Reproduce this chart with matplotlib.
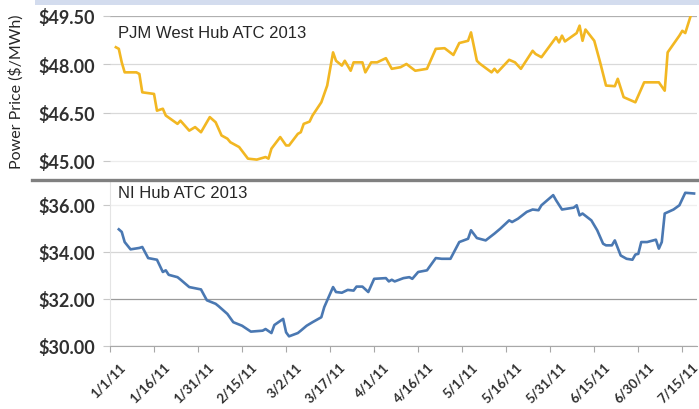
import datetime as dt
import matplotlib
matplotlib.use("Agg")
import matplotlib.pyplot as plt
import matplotlib.transforms as mtransforms
from matplotlib.lines import Line2D
from matplotlib.patches import Rectangle

# days after 1/1/11 and prices
pjm_days = [2, 3, 4, 5, 9, 10, 11, 15, 16, 18, 19, 23, 24, 27, 29, 31, 34, 36, 38, 40,
            41, 44, 47, 50, 53, 54, 55, 58, 60, 61, 64, 65, 66, 68, 69, 72, 74, 76, 77, 79,
            80, 82, 83, 86, 87, 89, 91, 94, 96, 99, 101, 104, 108, 111, 114, 117, 119, 122, 123, 125,
            126, 130, 131, 132, 136, 138, 140, 144, 145, 147, 152, 153, 154, 155, 159, 160, 161, 162, 165, 167,
            169, 172, 173, 175, 179, 182, 187, 189, 190, 194, 195, 196, 198, 200]
pjm_price = [48.53, 48.48, 48.06, 47.75, 47.75, 47.70, 47.13, 47.08, 46.56, 46.62, 46.41, 46.15, 46.25, 45.94, 46.05, 45.89, 46.36, 46.20, 45.79, 45.69,
             45.58, 45.43, 45.07, 45.04, 45.12, 45.07, 45.38, 45.74, 45.48, 45.48, 45.84, 45.89, 46.15, 46.22, 46.41, 46.82, 47.34, 48.37, 48.11, 47.96,
             48.11, 47.80, 48.06, 48.06, 47.75, 48.06, 48.06, 48.19, 47.86, 47.91, 48.01, 47.80, 47.86, 48.48, 48.50, 48.29, 48.66, 48.73, 48.99, 48.11,
             48.02, 47.75, 47.86, 47.75, 48.14, 48.06, 47.86, 48.42, 48.32, 48.22, 48.84, 48.68, 48.89, 48.71, 48.97, 49.20, 48.73, 49.08, 48.73, 48.06,
             47.34, 47.32, 47.55, 46.98, 46.82, 47.44, 47.44, 47.18, 48.37, 48.89, 49.04, 48.97, 49.55, 49.55]

ni_days = [3, 4, 5, 7, 10, 11, 13, 16, 18, 19, 20, 23, 24, 27, 31, 33, 34, 36, 37, 40,
           42, 45, 48, 52, 53, 55, 56, 59, 60, 61, 64, 65, 67, 69, 72, 73, 76, 77, 79, 81,
           83, 84, 86, 88, 90, 94, 95, 96, 97, 100, 102, 103, 105, 108, 111, 113, 116, 119, 122, 123,
           125, 128, 131, 133, 136, 137, 139, 142, 144, 146, 147, 151, 152, 154, 158, 159, 160, 161, 164, 166,
           168, 169, 171, 172, 174, 176, 178, 179, 180, 181, 183, 186, 187, 188, 189, 192, 194, 196, 199]
ni_price = [34.95, 34.84, 34.41, 34.10, 34.16, 34.20, 33.73, 33.66, 33.14, 33.21, 33.02, 32.92, 32.82, 32.50, 32.40, 31.94, 31.89, 31.79, 31.69, 31.36,
            31.01, 30.86, 30.61, 30.65, 30.72, 30.55, 30.89, 31.15, 30.58, 30.41, 30.55, 30.65, 30.86, 31.01, 31.22, 31.65, 32.50, 32.29, 32.26, 32.38,
            32.35, 32.52, 32.52, 32.29, 32.85, 32.88, 32.74, 32.81, 32.74, 32.88, 32.92, 32.85, 33.14, 33.21, 33.73, 33.70, 33.70, 34.41, 34.55, 34.91,
            34.58, 34.48, 34.77, 34.98, 35.33, 35.26, 35.40, 35.69, 35.79, 35.76, 35.97, 36.40, 36.18, 35.79, 35.87, 35.97, 35.54, 35.62, 35.33, 34.91,
            34.34, 34.27, 34.27, 34.48, 33.84, 33.70, 33.66, 33.88, 33.91, 34.41, 34.41, 34.51, 34.13, 34.41, 35.62, 35.79, 35.97, 36.50, 36.47]

pjm_ticks = [45.0, 46.5, 48.0, 49.5]
ni_ticks = [30, 32, 34, 36]
tick_labels = ["1/1/11", "1/16/11", "1/31/11", "2/15/11", "3/2/11", "3/17/11", "4/1/11",
               "4/16/11", "5/1/11", "5/16/11", "5/31/11", "6/15/11", "6/30/11", "7/15/11"]

start = dt.datetime(2011, 1, 1)
to_dates = lambda days: [start + dt.timedelta(days=d) for d in days]

W, H = 699, 410
fig = plt.figure(figsize=(W / 100, H / 100), dpi=100)
fig.patch.set_facecolor("white")

def box(x0, y0, x1, y1):
    # pixel box (top-left origin) -> figure fraction rect
    return [x0 / W, 1 - y1 / H, (x1 - x0) / W, (y1 - y0) / H]

ax1 = fig.add_axes(box(110, 17, 697, 178))
ax2 = fig.add_axes(box(110, 182, 697, 347))

tick_font = dict(family="Lato", weight="bold", size=13, color="#303030")

for ax in (ax1, ax2):
    ax.set_xlim(start, start + dt.timedelta(days=200))
    for s in ax.spines.values():
        s.set_visible(False)
    ax.tick_params(axis="y", length=5, width=0.8, color="#c8c8c8", pad=6)
    ax.grid(axis="y", color="#d9d9d9", linewidth=0.9)
    ax.set_axisbelow(True)

# top panel
ax1.plot(to_dates(pjm_days), pjm_price, color="#F2B722", linewidth=1.9)
ax1.set_ylim(44.5, 49.5)
ax1.set_yticks(pjm_ticks)
ax1.set_yticklabels([f"${v:.2f}" for v in pjm_ticks], **tick_font)
ax1.set_xticks([])
gl = ax1.get_ygridlines()
gl[0].set_color("#ececec")
gl[3].set_color("#b0b0b0")
ax1.text(0.014, 0.90, "PJM West Hub ATC 2013", transform=ax1.transAxes,
         family="Liberation Sans", fontsize=12, color="#262626", va="center", ha="left")

# bottom panel
ax2.plot(to_dates(ni_days), ni_price, color="#4A78B2", linewidth=1.9)
ax2.set_ylim(30, 37)
ax2.set_yticks(ni_ticks)
ax2.set_yticklabels([f"${v:.2f}" for v in ni_ticks], **tick_font)
gl = ax2.get_ygridlines()
gl[0].set_color("#a8a8a8")
gl[1].set_color("#9a9a9a")
gl[2].set_color("#d6d6d6")
gl[3].set_color("#efefef")
ax2.spines["left"].set_visible(True)
ax2.spines["left"].set_color("#e4e4e4")
ax2.spines["bottom"].set_visible(True)
ax2.spines["bottom"].set_color("#a8a8a8")
tick_pos = [start + dt.timedelta(days=15 * i) for i in range(len(tick_labels))]
ax2.set_xticks(tick_pos)
ax2.set_xticklabels(tick_labels, rotation=45, ha="right", rotation_mode="anchor",
                    family="Lato", weight="bold", size=9.5, color="#303030")
ax2.tick_params(axis="x", length=4, width=0.8, color="#a8a8a8", pad=6)
shift = mtransforms.ScaledTranslation(9 / 100, 0, fig.dpi_scale_trans)
for lab in ax2.get_xticklabels():
    lab.set_transform(lab.get_transform() + shift)
ax2.text(0.014, 0.933, "NI Hub ATC 2013", transform=ax2.transAxes,
         family="Liberation Sans", fontsize=12, color="#262626", va="center", ha="left")

# shared y label, divider and top band
fig.text(16 / W, 1 - 92 / H, "Power Price ($/MWh)", rotation=90, ha="center", va="center",
         family="Lato", fontsize=11.5, color="#262626")
fig.add_artist(Line2D([32 / W, 1], [1 - 180.5 / H] * 2, color="#808080", linewidth=2.4))
fig.add_artist(Rectangle((35 / W, 1 - 6 / H), 1, 6 / H, color="#d3dcee", linewidth=0))

fig.savefig("out.png", dpi=100)
